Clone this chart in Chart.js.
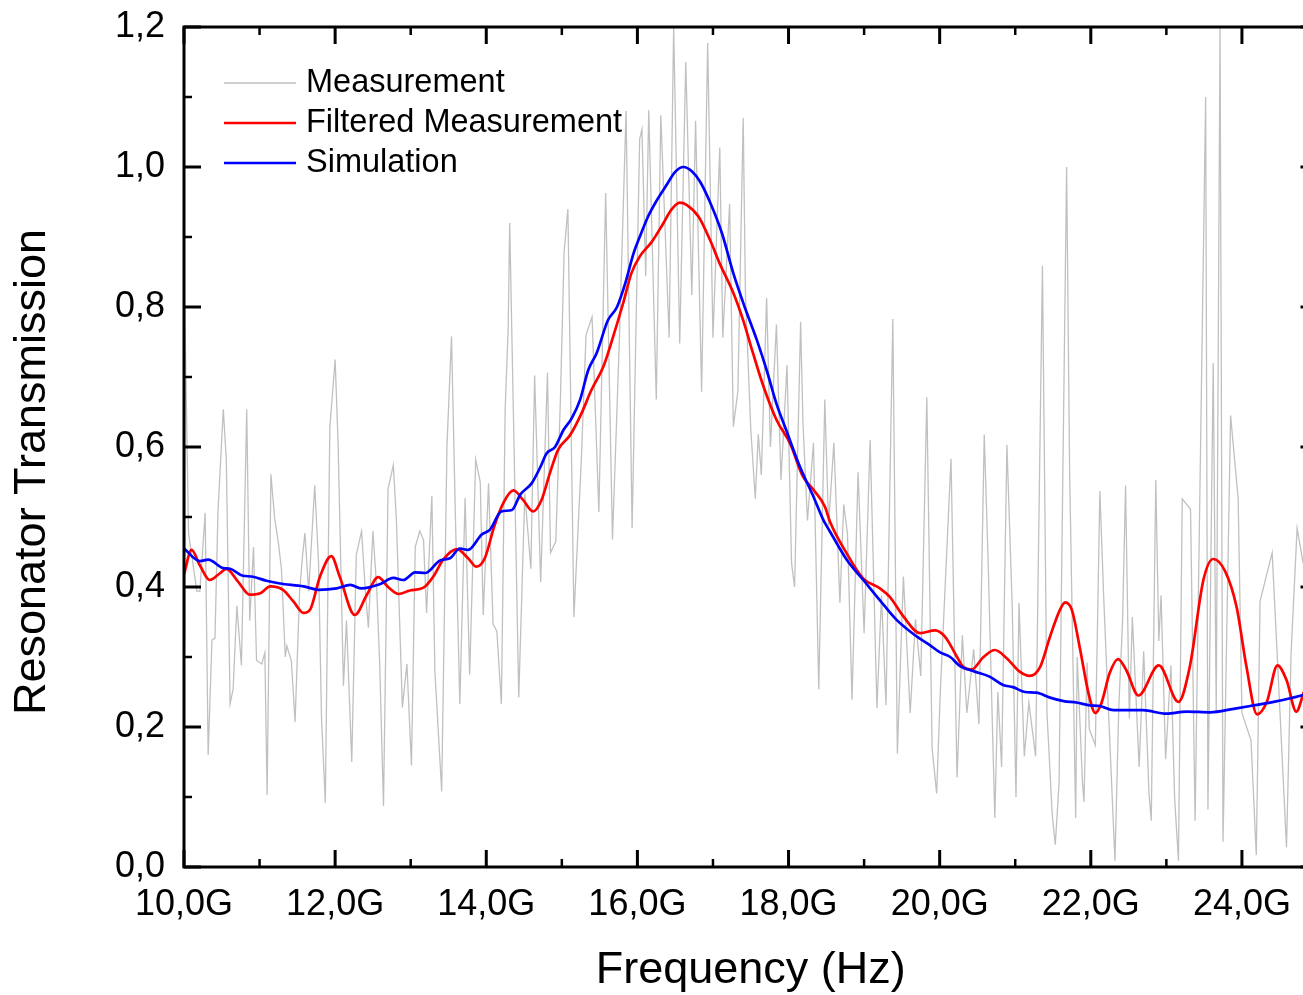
<!DOCTYPE html>
<html><head><meta charset="utf-8">
<script src="https://cdn.jsdelivr.net/npm/chart.js@4.4.1/dist/chart.umd.min.js"></script>
<style>
html,body{margin:0;padding:0;background:#fff;overflow:hidden;width:1303px;height:995px}
#wrap{position:absolute;left:0;top:0;width:1320px;height:995px}
</style>
</head><body><div id="wrap"><canvas id="c" width="1320" height="995"></canvas></div>
<script>
// ---- tick values ----
const xMajorTicks = [10, 12, 14, 16, 18, 20, 22, 24];
const xMinorTicks = [11, 13, 15, 17, 19, 21, 23, 25];
const yMajorTicks = [0, 0.2, 0.4, 0.6, 0.8, 1.0, 1.2];
const yMinorTicks = [0.1, 0.3, 0.5, 0.7, 0.9, 1.1];
const yAxisTitle = 'Resonator Transmission';
const xAxisTitle = 'Frequency (Hz)';

// ---- series: Measurement (GHz, transmission) ----
const measFreq = [10.00,10.01,10.06,10.17,10.21,10.28,10.32,10.37,10.41,10.45,10.52,10.56,10.61,10.65,10.70,10.76,10.83,10.87,10.92,10.96,
11.03,11.07,11.10,11.15,11.20,11.25,11.29,11.34,11.36,11.42,11.47,11.53,11.57,11.60,11.65,11.73,11.78,11.82,11.87,11.93,
12.00,12.04,12.11,12.15,12.22,12.28,12.35,12.40,12.44,12.50,12.55,12.59,12.64,12.70,12.77,12.81,12.89,12.95,
13.01,13.06,13.12,13.17,13.21,13.28,13.32,13.41,13.48,13.54,13.59,13.65,13.72,13.78,13.86,13.92,13.96,
14.03,14.09,14.14,14.20,14.25,14.29,14.31,14.37,14.43,14.51,14.59,14.64,14.72,14.81,14.85,14.92,14.98,
15.03,15.08,15.16,15.26,15.32,15.40,15.49,15.58,15.67,15.76,15.85,15.93,
16.03,16.06,16.11,16.15,16.25,16.31,16.42,16.48,16.56,16.64,16.72,16.77,16.85,16.93,
17.00,17.09,17.13,17.22,17.27,17.33,17.40,17.43,17.50,17.56,17.60,17.64,17.71,17.76,17.84,17.90,17.98,
18.04,18.08,18.16,18.19,18.25,18.33,18.40,18.48,18.53,18.60,18.68,18.73,18.78,18.84,18.92,
19.00,19.08,19.17,19.23,19.29,19.38,19.44,19.52,19.61,19.68,19.75,19.83,19.90,19.96,
20.01,20.15,20.23,20.30,20.36,20.45,20.52,20.59,20.64,20.73,20.77,20.82,20.89,20.96,
21.01,21.05,21.12,21.18,21.27,21.36,21.42,21.49,21.53,21.58,21.68,21.72,21.80,21.82,21.89,21.91,21.95,21.98,
22.06,22.12,22.17,22.22,22.32,22.37,22.42,22.46,22.51,22.55,22.64,22.70,22.77,22.80,22.86,22.90,22.93,22.99,
23.06,23.11,23.16,23.21,23.32,23.38,23.52,23.55,23.62,23.66,23.71,23.75,23.85,23.95,
24.00,24.12,24.19,24.24,24.40,24.47,24.59,24.65,24.73,24.81];
const measVal = [0.327,0.800,0.477,0.394,0.394,0.506,0.160,0.324,0.327,0.509,0.654,0.582,0.233,0.254,0.373,0.288,0.654,0.352,0.457,0.295,
0.290,0.306,0.103,0.561,0.498,0.462,0.425,0.300,0.316,0.295,0.207,0.394,0.446,0.477,0.394,0.545,0.436,0.212,0.092,0.628,
0.725,0.602,0.259,0.352,0.150,0.446,0.480,0.394,0.342,0.480,0.399,0.290,0.087,0.540,0.574,0.498,0.228,0.290,
0.145,0.457,0.480,0.467,0.363,0.530,0.280,0.108,0.602,0.758,0.509,0.233,0.527,0.275,0.582,0.550,0.360,
0.548,0.347,0.337,0.233,0.654,0.769,0.920,0.587,0.242,0.534,0.426,0.702,0.407,0.706,0.449,0.465,0.664,
0.878,0.940,0.357,0.587,0.760,0.786,0.507,0.963,0.468,0.748,1.080,0.484,
1.040,1.054,0.844,1.081,0.668,1.074,0.756,1.200,0.748,1.150,0.817,1.066,0.679,1.177,
0.756,1.028,0.756,0.947,0.629,0.680,1.070,0.817,0.626,0.526,0.618,0.560,0.813,0.600,0.775,0.553,0.717,
0.434,0.400,0.779,0.637,0.495,0.606,0.254,0.668,0.488,0.606,0.377,0.518,0.476,0.239,0.564,
0.334,0.610,0.227,0.388,0.231,0.783,0.162,0.415,0.220,0.354,0.273,0.671,0.170,0.105,
0.254,0.583,0.128,0.331,0.220,0.311,0.204,0.618,0.442,0.070,0.250,0.143,0.603,0.373,
0.100,0.377,0.158,0.235,0.158,0.859,0.220,0.074,0.032,0.120,1.000,0.564,0.070,0.300,0.120,0.093,0.292,0.197,
0.174,0.537,0.388,0.258,0.009,0.227,0.350,0.545,0.212,0.357,0.143,0.308,0.105,0.066,0.553,0.323,0.388,0.154,
0.288,0.097,0.009,0.526,0.511,0.066,1.100,0.082,0.720,0.220,1.200,0.036,0.645,0.526,
0.220,0.181,0.017,0.380,0.449,0.296,0.028,0.304,0.484,0.434];

// ---- series: Filtered Measurement ----
const filtFreq = [10.00,10.10,10.21,10.34,10.48,10.56,10.72,10.87,11.01,11.14,11.31,11.45,11.58,11.67,11.80,11.95,
12.06,12.26,12.42,12.57,12.70,12.84,12.99,13.17,13.30,13.43,13.61,13.76,13.87,13.98,
14.11,14.23,14.36,14.49,14.62,14.73,14.84,14.95,15.11,15.26,15.39,15.55,15.68,15.81,15.92,
16.03,16.19,16.34,16.45,16.56,16.65,16.81,16.96,17.09,17.27,17.40,17.53,17.67,17.84,
18.02,18.19,18.33,18.48,18.55,18.77,18.99,19.21,19.34,19.52,19.74,19.94,
20.07,20.23,20.31,20.42,20.58,20.73,20.89,21.06,21.19,21.33,21.46,21.59,21.66,21.75,21.86,21.97,
22.06,22.14,22.25,22.36,22.47,22.63,22.90,23.16,23.31,23.49,23.62,23.78,23.93,
24.06,24.20,24.33,24.47,24.59,24.72,24.82];
const filtVal = [0.418,0.453,0.431,0.410,0.420,0.426,0.407,0.389,0.391,0.401,0.396,0.379,0.363,0.368,0.415,0.444,
0.415,0.360,0.389,0.414,0.400,0.390,0.395,0.399,0.415,0.439,0.454,0.441,0.429,0.441,
0.488,0.521,0.538,0.524,0.508,0.524,0.562,0.596,0.617,0.648,0.681,0.715,0.758,0.805,0.848,
0.872,0.893,0.919,0.939,0.949,0.946,0.929,0.896,0.862,0.820,0.781,0.734,0.686,0.639,
0.605,0.558,0.539,0.515,0.493,0.448,0.412,0.398,0.386,0.358,0.334,0.338,
0.329,0.300,0.286,0.282,0.300,0.310,0.298,0.279,0.273,0.286,0.329,0.367,0.378,0.367,0.310,0.248,
0.220,0.234,0.277,0.297,0.281,0.245,0.288,0.236,0.286,0.410,0.440,0.422,0.371,
0.286,0.218,0.236,0.288,0.267,0.222,0.250];

// ---- series: Simulation ----
const simFreq = [10.00,10.21,10.32,10.52,10.61,10.78,10.89,11.09,11.27,11.58,11.78,12.02,12.20,12.35,12.59,12.77,12.90,
13.06,13.19,13.39,13.52,13.65,13.76,13.94,14.05,14.20,14.34,14.45,14.60,14.71,14.80,14.91,
15.02,15.13,15.24,15.35,15.46,15.61,15.73,15.84,15.95,16.03,16.14,16.26,16.39,16.50,16.61,16.72,16.83,16.96,
17.12,17.27,17.42,17.58,17.71,17.84,17.97,18.15,18.33,18.46,18.55,18.77,18.99,19.21,19.43,19.70,19.87,
20.00,20.14,20.27,20.44,20.66,20.84,20.97,21.13,21.28,21.46,21.64,21.81,21.99,22.12,22.30,22.52,22.69,
23.00,23.27,23.58,23.89,24.11,24.42,24.64,24.82];
const simVal = [0.455,0.437,0.439,0.427,0.426,0.416,0.415,0.409,0.405,0.401,0.396,0.398,0.403,0.398,0.404,0.413,0.410,
0.421,0.420,0.438,0.441,0.455,0.453,0.475,0.482,0.508,0.510,0.532,0.548,0.570,0.591,0.600,
0.624,0.641,0.667,0.710,0.734,0.781,0.800,0.834,0.877,0.900,0.929,0.953,0.975,0.993,1.000,0.994,0.979,0.950,
0.905,0.848,0.800,0.753,0.710,0.662,0.624,0.572,0.529,0.496,0.479,0.439,0.410,0.381,0.353,0.329,0.317,
0.307,0.300,0.287,0.280,0.272,0.260,0.257,0.250,0.249,0.242,0.237,0.235,0.231,0.230,0.224,0.224,0.224,
0.219,0.222,0.221,0.226,0.230,0.236,0.241,0.246];

const toXY = (xs, ys) => xs.map((f, i) => ({x: f, y: ys[i]}));
const commaFmt = v => Number(v).toFixed(1).replace('.', ',');
const FONT = "'Liberation Sans', Arial, Helvetica, sans-serif";

Chart.defaults.font.family = FONT;
Chart.defaults.color = '#000';

const framePlugin = {
  id: 'frameTicksLegend',
  afterDatasetsDraw(chart) {
    const {ctx, chartArea: a, scales: {x, y}} = chart;
    ctx.save();
    ctx.strokeStyle = '#000';
    ctx.lineCap = 'butt';
    const seg = (x1, y1, x2, y2) => { ctx.beginPath(); ctx.moveTo(x1, y1); ctx.lineTo(x2, y2); ctx.stroke(); };
    const drawX = (vals, len, w) => {
      ctx.lineWidth = w;
      vals.forEach(v => { const p = x.getPixelForValue(v); seg(p, a.bottom, p, a.bottom - len); seg(p, a.top, p, a.top + len); });
    };
    const drawY = (vals, len, w) => {
      ctx.lineWidth = w;
      vals.forEach(v => { const p = y.getPixelForValue(v); seg(a.left, p, a.left + len, p); seg(a.right, p, a.right - len, p); });
    };
    drawX(xMajorTicks, 17, 3); drawX(xMinorTicks, 8, 2.5);
    drawY(yMajorTicks, 17, 3); drawY(yMinorTicks, 8, 2.5);
    ctx.lineWidth = 3;
    ctx.strokeRect(a.left, a.top, a.right - a.left, a.bottom - a.top);
    // y axis title
    ctx.save();
    ctx.fillStyle = '#000';
    ctx.font = '45px ' + FONT;
    ctx.textAlign = 'center';
    ctx.textBaseline = 'middle';
    ctx.translate(33, (a.top + a.bottom) / 2 + 25);
    ctx.rotate(-Math.PI / 2);
    ctx.fillText(yAxisTitle, 0, 0);
    ctx.restore();
    // legend
    const ds = chart.data.datasets;
    ctx.font = '32.5px ' + FONT;
    ctx.textBaseline = 'middle';
    ctx.textAlign = 'left';
    ctx.fillStyle = '#000';
    ds.forEach((d, i) => {
      const ly = a.top + 56 + i * 40;
      ctx.strokeStyle = d.borderColor;
      ctx.lineWidth = d.borderWidth;
      seg(a.left + 40, ly, a.left + 112, ly);
      ctx.fillText(d.label, a.left + 122, ly);
    });
    ctx.restore();
  }
};

const zeroPad = s => { s.paddingTop = 0; s.paddingBottom = 0; s.paddingLeft = 0; s.paddingRight = 0; };

new Chart(document.getElementById('c'), {
  type: 'line',
  data: {
    datasets: [
      {label: 'Measurement', data: toXY(measFreq, measVal), borderColor: '#c0c0c0', borderWidth: 1.3,
       pointRadius: 0, tension: 0, order: 3},
      {label: 'Filtered Measurement', data: toXY(filtFreq, filtVal), borderColor: '#ff0000', borderWidth: 2.7,
       pointRadius: 0, cubicInterpolationMode: 'monotone', order: 2},
      {label: 'Simulation', data: toXY(simFreq, simVal), borderColor: '#0000ff', borderWidth: 2.7,
       pointRadius: 0, cubicInterpolationMode: 'monotone', order: 1}
    ]
  },
  options: {
    responsive: false,
    animation: false,
    devicePixelRatio: 1,
    layout: {padding: {top: 27, right: 2.5, left: 0, bottom: 0}},
    plugins: {legend: {display: false}, tooltip: {enabled: false}},
    scales: {
      x: {
        type: 'linear', min: 10, max: 25,
        afterBuildTicks: s => { s.ticks = xMajorTicks.map(v => ({value: v})); },
        afterFit: s => { s.height = 128; zeroPad(s); },
        grid: {display: false, drawTicks: false},
        border: {display: false},
        ticks: {font: {size: 36}, color: '#000', padding: 16, maxRotation: 0, autoSkip: false,
                callback: v => commaFmt(v) + 'G'},
        title: {display: true, text: xAxisTitle, font: {size: 45}, color: '#000', padding: {top: 0, bottom: -3}}
      },
      y: {
        type: 'linear', min: 0, max: 1.2,
        afterBuildTicks: s => { s.ticks = yMajorTicks.map(v => ({value: v})); },
        afterFit: s => { s.width = 184; zeroPad(s); },
        grid: {display: false, drawTicks: false},
        border: {display: false},
        ticks: {font: {size: 36}, color: '#000', padding: 19, autoSkip: false,
                callback: v => commaFmt(v)},
        title: {display: false}
      }
    }
  },
  plugins: [framePlugin]
});
</script>
</body></html>
